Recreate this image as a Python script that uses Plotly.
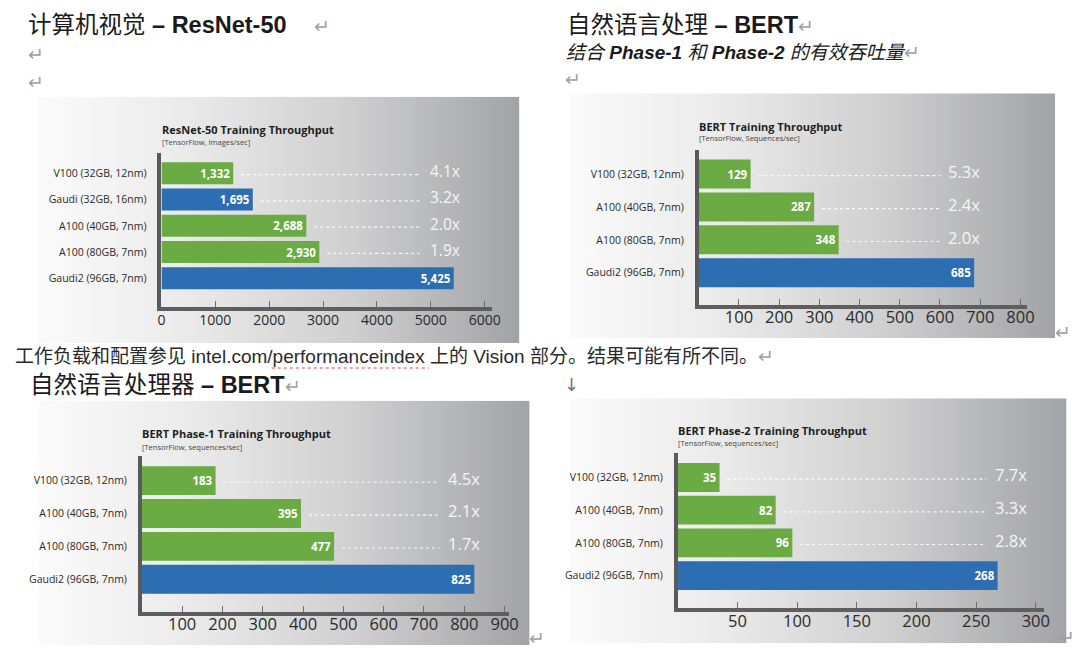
import base64
import plotly.graph_objects as go

W, H = 1080, 653

# ---------------- data ----------------
GREEN = "#6aab43"
BLUE = "#2d6db1"

resnet_cats = ["V100 (32GB, 12nm)", "Gaudi (32GB, 16nm)", "A100 (40GB, 7nm)",
               "A100 (80GB, 7nm)", "Gaudi2 (96GB, 7nm)"]
resnet_vals = [1332, 1695, 2688, 2930, 5425]
resnet_mult = ["4.1x", "3.2x", "2.0x", "1.9x", ""]
resnet_colors = [GREEN, BLUE, GREEN, GREEN, BLUE]
resnet_ticks = [0, 1000, 2000, 3000, 4000, 5000, 6000]

bert_cats = ["V100 (32GB, 12nm)", "A100 (40GB, 7nm)", "A100 (80GB, 7nm)", "Gaudi2 (96GB, 7nm)"]
bert_colors = [GREEN, GREEN, GREEN, BLUE]

bert_vals = [129, 287, 348, 685]
bert_mult = ["5.3x", "2.4x", "2.0x", ""]
bert_ticks = [100, 200, 300, 400, 500, 600, 700, 800]

phase1_vals = [183, 395, 477, 825]
phase1_mult = ["4.5x", "2.1x", "1.7x", ""]
phase1_ticks = [100, 200, 300, 400, 500, 600, 700, 800, 900]

phase2_vals = [35, 82, 96, 268]
phase2_mult = ["7.7x", "3.3x", "2.8x", ""]
phase2_ticks = [50, 100, 150, 200, 250, 300]

# ---------------- layout helpers ----------------
def px(x):
    return x / W


def py(y):
    return 1 - y / H


CHART_FONT = "Open Sans, Noto Sans, sans-serif"
DOC_FONT = "Liberation Sans, Noto Sans CJK SC, sans-serif"


def gradient_uri():
    stops = [(0.0, "#fbfbfb"), (0.3, "#ebebeb"), (0.65, "#cfcfd0"), (1.0, "#a2a3a7")]
    st = "".join(f'<stop offset="{o}" stop-color="{c}"/>' for o, c in stops)
    svg = ('<svg xmlns="http://www.w3.org/2000/svg" width="200" height="100" '
           'viewBox="0 0 200 100" preserveAspectRatio="none">'
           f'<defs><linearGradient id="g" x1="0" y1="0" x2="1" y2="0">{st}</linearGradient></defs>'
           '<rect width="200" height="100" fill="url(#g)"/></svg>')
    return "data:image/svg+xml;base64," + base64.b64encode(svg.encode()).decode()


panels = [
    dict(cats=resnet_cats, vals=resnet_vals, mult=resnet_mult, colors=resnet_colors,
         ticks=resnet_ticks, x0=159.4, ppu=0.05453, xend=494, ytop=152.7, ybot=306.7,
         yr=[5.08, -0.785], bw=0.84, tfs=14, tso=-3, mult_x=4939, dot_end=4794, mfs=15.5,
         box=(34.4, 96.7, 521.7, 343), title="ResNet-50 Training Throughput",
         sub="[TensorFlow, Images/sec]", tpos=(157.7, 129, 142), thousands=True),
    dict(cats=bert_cats, vals=bert_vals, mult=bert_mult, colors=bert_colors,
         ticks=bert_ticks, x0=703.2, ppu=0.407, xend=1035.9, ytop=150, ybot=305,
         yr=[3.98, -0.73], bw=0.88, tfs=16.5, tso=-6, mult_x=614, dot_end=601, mfs=16.5,
         box=(572.7, 93.3, 1064, 338), title="BERT Training Throughput",
         sub="[TensorFlow, Sequences/sec]", tpos=(701, 126.7, 138.3), thousands=False),
    dict(cats=bert_cats, vals=phase1_vals, mult=phase1_mult, colors=bert_colors,
         ticks=phase1_ticks, x0=139.5, ppu=0.408, xend=511.4, ytop=456, ybot=611.7,
         yr=[3.99, -0.75], bw=0.88, tfs=16.5, tso=-6, mult_x=754, dot_end=738, mfs=16.5,
         box=(35, 400.7, 532, 645), title="BERT Phase-1 Training Throughput",
         sub="[TensorFlow, sequences/sec]", tpos=(137.7, 433.3, 446.7), thousands=False),
    dict(cats=bert_cats, vals=phase2_vals, mult=phase2_mult, colors=bert_colors,
         ticks=phase2_ticks, x0=682, ppu=1.208, xend=1053, ytop=453.3, ybot=607.7,
         yr=[3.98, -0.74], bw=0.88, tfs=16.5, tso=-5, mult_x=264, dot_end=258.7, mfs=16.5,
         box=(572.7, 398.3, 1075.5, 643.3), title="BERT Phase-2 Training Throughput",
         sub="[TensorFlow, sequences/sec]", tpos=(680, 430, 442.7), thousands=False),
]

fig = go.Figure()
shapes, annotations, images = [], [], []
layout_axes = {}
grad = gradient_uri()

for k, p in enumerate(panels, start=1):
    xa = "x" if k == 1 else f"x{k}"
    ya = "y" if k == 1 else f"y{k}"
    xmax = (p["xend"] - p["x0"]) / p["ppu"]
    labels = [f"<b>{v:,}</b>" if p["thousands"] else f"<b>{v}</b>" for v in p["vals"]]
    fig.add_trace(go.Bar(
        x=p["vals"], y=p["cats"], orientation="h", xaxis=xa, yaxis=ya,
        marker=dict(color=p["colors"], line=dict(width=0)), width=p["bw"],
        text=labels, textposition="inside", insidetextanchor="end",
        constraintext="none", textangle=0,
        insidetextfont=dict(color="white", size=11.5, family=CHART_FONT),
        hoverinfo="skip", showlegend=False, cliponaxis=False,
    ))
    layout_axes["xaxis" if k == 1 else f"xaxis{k}"] = dict(
        domain=[px(p["x0"]), px(p["xend"])], range=[0, xmax], anchor=ya,
        showgrid=False, zeroline=False, showline=True, linecolor="#5e5e5e", linewidth=4,
        ticks="inside", ticklen=6, tickwidth=1.2, tickcolor="#6e6e6e",
        tickvals=p["ticks"], ticktext=[str(t) for t in p["ticks"]],
        ticklabelstandoff=p["tso"],
        tickfont=dict(size=p["tfs"], color="#2a2a2a", family=CHART_FONT),
        fixedrange=True,
    )
    layout_axes["yaxis" if k == 1 else f"yaxis{k}"] = dict(
        domain=[py(p["ybot"]), py(p["ytop"])], range=p["yr"], anchor=xa,
        type="category", categoryorder="array", categoryarray=p["cats"],
        showgrid=False, zeroline=False, showline=True, linecolor="#5a5a5a", linewidth=3.5,
        ticks="", ticklabelstandoff=9,
        tickfont=dict(size=10.5, color="#2a2a2a", family=CHART_FONT), fixedrange=True,
    )
    # background gradient box
    bx0, by0, bx1, by1 = p["box"]
    images.append(dict(source=grad, xref="paper", yref="paper", x=px(bx0), y=py(by0),
                       sizex=(bx1 - bx0) / W, sizey=(by1 - by0) / H, sizing="stretch",
                       xanchor="left", yanchor="top", layer="below"))
    # dotted leader lines and multipliers
    gap = 8 / p["ppu"]
    for i, (v, m) in enumerate(zip(p["vals"], p["mult"])):
        if not m:
            continue
        shapes.append(dict(type="line", xref=xa, yref=ya, x0=v + gap, x1=p["dot_end"],
                           y0=i + 0.05, y1=i + 0.05,
                           line=dict(color="rgba(255,255,255,0.9)", width=1.1, dash="dot")))
        annotations.append(dict(xref=xa, yref=ya, x=p["mult_x"], y=i - 0.08, text=m,
                                showarrow=False, xanchor="left", yanchor="middle",
                                font=dict(size=p["mfs"], color="#f6f6f6", family=CHART_FONT)))
    # chart title + subtitle
    tx, ty, sy = p["tpos"]
    annotations.append(dict(xref="paper", yref="paper", x=px(tx), y=py(ty), text=f"<b>{p['title']}</b>",
                            showarrow=False, xanchor="left", yanchor="middle",
                            font=dict(size=11, color="#1e1e1e", family=CHART_FONT)))
    annotations.append(dict(xref="paper", yref="paper", x=px(tx), y=py(sy), text=p["sub"],
                            showarrow=False, xanchor="left", yanchor="middle",
                            font=dict(size=7.5, color="#444444", family=CHART_FONT)))

# ---------------- document text ----------------
RET = '<span style="color:#a0a0a0;font-size:19px">↵</span>'


def doc(x, y, text, size, color="#1a1a1a", family=DOC_FONT):
    annotations.append(dict(xref="paper", yref="paper", x=px(x), y=py(y), text=text,
                            showarrow=False, xanchor="left", yanchor="middle",
                            font=dict(size=size, color=color, family=family)))


doc(22, 25, "计算机视觉 <b>– ResNet-50</b>", 23.5)
doc(312, 27, RET, 19)
doc(22, 55, RET, 19)
doc(22, 83, RET, 19)
doc(568, 25, "自然语言处理 <b>– BERT</b>" + RET, 23.5)
doc(567, 53, "<i>结合 <b>Phase-1</b> 和 <b>Phase-2</b> 的有效吞吐量</i>" + RET, 19)
doc(566, 79, RET, 19)
doc(1062, 332, RET, 19)
doc(9, 357, "工作负载和配置参见 intel.com/performanceindex 上的 Vision 部分。结果可能有所不同。" + RET,
    19, "#2a2a2a")
doc(24, 385, "自然语言处理器 <b>– BERT</b>" + RET, 23.5)
doc(565, 385, "↓", 18, "#707070", "DejaVu Sans")
doc(529, 638, RET, 19)
doc(1066, 637, RET, 19)

# spell-check squiggle under the URL
shapes.append(dict(type="line", xref="paper", yref="paper", x0=px(271), x1=px(430),
                   y0=py(368), y1=py(368), line=dict(color="#e04040", width=1, dash="dot")))

fig.update_layout(
    width=W, height=H, margin=dict(l=0, r=0, t=0, b=0),
    paper_bgcolor="white", plot_bgcolor="rgba(0,0,0,0)",
    shapes=shapes, annotations=annotations, images=images,
    showlegend=False, **layout_axes,
)

fig.write_html("out.html", config={"displayModeBar": False},
               post_script="document.body.style.margin='0px';document.body.style.overflow='hidden';")
